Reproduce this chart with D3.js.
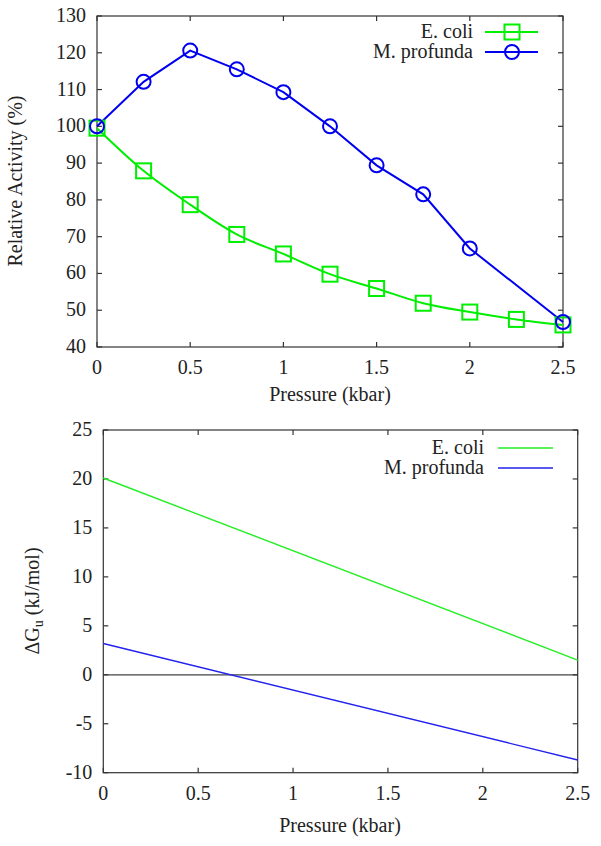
<!DOCTYPE html>
<html><head><meta charset="utf-8">
<script src="https://cdn.jsdelivr.net/npm/d3@7"></script>
</head><body style="margin:0">
<svg id="c" width="601" height="846"></svg>
<script>
// ---- Data ----
const pressureTop = [0, 0.25, 0.5, 0.75, 1.0, 1.25, 1.5, 1.75, 2.0, 2.25, 2.5];
const ecoliActivity = [99.5, 87.9, 78.7, 70.6, 65.3, 59.8, 55.9, 51.9, 49.5, 47.5, 46.0];
const profPressure = [0, 0.25, 0.5, 0.75, 1.0, 1.25, 1.5, 1.75, 2.0, 2.5];
const profActivity = [100, 112.1, 120.6, 115.5, 109.3, 100, 89.4, 81.5, 66.8, 46.8];
const topXTicks = [0, 0.5, 1, 1.5, 2, 2.5];
const topYTicks = [40, 50, 60, 70, 80, 90, 100, 110, 120, 130];

const pressureBottom = [0, 2.5];
const ecoliDG = [20.1, 1.5];
const profDG = [3.2, -8.7];
const botXTicks = [0, 0.5, 1, 1.5, 2, 2.5];
const botYTicks = [-10, -5, 0, 5, 10, 15, 20, 25];

const GREEN = "#00ee00", BLUE = "#0000ee";
const svg = d3.select("#c");
const FS = 20;
const TXT = "#222";
const FONT = "Times New Roman";

function txt(sel, x, y, s, anchor) {
  return sel.append("text").attr("x", x).attr("y", y).attr("text-anchor", anchor || "start")
    .attr("font-family", FONT).attr("font-size", FS).attr("fill", TXT)
    .style("font-family", FONT).text(s);
}

function frame(g, x, y, xt, yt) {
  const [x0, x1] = x.range(), [y0, y1] = y.range();
  const tl = 5;
  const ax = g.append("g").attr("stroke", "#333").attr("stroke-width", 1.2);
  xt.forEach(v => {
    ax.append("line").attr("x1", x(v)).attr("x2", x(v)).attr("y1", y0).attr("y2", y0 - tl);
    ax.append("line").attr("x1", x(v)).attr("x2", x(v)).attr("y1", y1).attr("y2", y1 + tl);
  });
  yt.forEach(v => {
    ax.append("line").attr("y1", y(v)).attr("y2", y(v)).attr("x1", x0).attr("x2", x0 + tl);
    ax.append("line").attr("y1", y(v)).attr("y2", y(v)).attr("x1", x1).attr("x2", x1 - tl);
  });
  ax.append("rect").attr("x", x0).attr("y", y1).attr("width", x1 - x0).attr("height", y0 - y1).attr("fill", "none");
  xt.forEach(v => txt(g, x(v), y0 + 27, String(v), "middle"));
  yt.forEach(v => txt(g, x0 - 11, y(v) + 6, String(v), "end"));
}

// ---- Top chart ----
{
  const x = d3.scaleLinear().domain([0, 2.5]).range([97, 563]);
  const y = d3.scaleLinear().domain([40, 130]).range([347, 16]);
  const g = svg.append("g");
  frame(g, x, y, topXTicks, topYTicks);
  const eData = pressureTop.map((p, i) => [p, ecoliActivity[i]]);
  const pData = profPressure.map((p, i) => [p, profActivity[i]]);
  g.append("path").datum(eData).attr("fill", "none").attr("stroke", GREEN).attr("stroke-width", 2)
    .attr("d", d3.line().x(d => x(d[0])).y(d => y(d[1])).curve(d3.curveMonotoneX));
  g.append("path").datum(pData).attr("fill", "none").attr("stroke", BLUE).attr("stroke-width", 2)
    .attr("d", d3.line().x(d => x(d[0])).y(d => y(d[1])));
  g.selectAll(".sq").data(eData).enter().append("rect")
    .attr("x", d => x(d[0]) - 7.5).attr("y", d => y(d[1]) - 7.5).attr("width", 15).attr("height", 15)
    .attr("fill", "none").attr("stroke", GREEN).attr("stroke-width", 2);
  g.selectAll(".ci").data(pData).enter().append("circle")
    .attr("cx", d => x(d[0])).attr("cy", d => y(d[1])).attr("r", 7)
    .attr("fill", "none").attr("stroke", BLUE).attr("stroke-width", 2);
  txt(g, 473, 38, "E. coli", "end");
  g.append("line").attr("x1", 485).attr("x2", 538).attr("y1", 32).attr("y2", 32).attr("stroke", GREEN).attr("stroke-width", 2);
  g.append("rect").attr("x", 504.5).attr("y", 24.5).attr("width", 15).attr("height", 15).attr("fill", "none").attr("stroke", GREEN).attr("stroke-width", 2);
  txt(g, 473, 58, "M. profunda", "end");
  g.append("line").attr("x1", 485).attr("x2", 538).attr("y1", 52).attr("y2", 52).attr("stroke", BLUE).attr("stroke-width", 2);
  g.append("circle").attr("cx", 512).attr("cy", 52).attr("r", 7).attr("fill", "none").attr("stroke", BLUE).attr("stroke-width", 2);
  txt(g, 330, 401, "Pressure (kbar)", "middle");
  txt(g, 0, 0, "Relative Activity (%)", "middle").attr("transform", "translate(22,181) rotate(-90)");
}

// ---- Bottom chart ----
{
  const x = d3.scaleLinear().domain([0, 2.5]).range([103.3, 577.7]);
  const y = d3.scaleLinear().domain([-10, 25]).range([772.7, 430]);
  const g = svg.append("g");
  g.append("line").attr("x1", x(0)).attr("x2", x(2.5)).attr("y1", y(0)).attr("y2", y(0)).attr("stroke", "#444").attr("stroke-width", 1.2);
  frame(g, x, y, botXTicks, botYTicks);
  const line = d3.line().x(d => x(d[0])).y(d => y(d[1]));
  g.append("path").datum(pressureBottom.map((p, i) => [p, ecoliDG[i]])).attr("fill", "none").attr("stroke", "#22ee22").attr("stroke-width", 1.4).attr("d", line);
  g.append("path").datum(pressureBottom.map((p, i) => [p, profDG[i]])).attr("fill", "none").attr("stroke", "#2222ee").attr("stroke-width", 1.4).attr("d", line);
  txt(g, 484, 454, "E. coli", "end");
  g.append("line").attr("x1", 498).attr("x2", 553).attr("y1", 448).attr("y2", 448).attr("stroke", "#22ee22").attr("stroke-width", 1.4);
  txt(g, 484, 474, "M. profunda", "end");
  g.append("line").attr("x1", 498).attr("x2", 553).attr("y1", 468).attr("y2", 468).attr("stroke", "#2222ee").attr("stroke-width", 1.4);
  txt(g, 340, 832, "Pressure (kbar)", "middle");
  const yl = txt(g, 0, 0, "", "middle").attr("transform", "translate(39,601) rotate(-90)");
  yl.append("tspan").text("ΔG");
  yl.append("tspan").attr("font-size", 14).attr("dy", 4).text("u");
  yl.append("tspan").attr("dy", -4).text(" (kJ/mol)");
}
</script></body></html>
